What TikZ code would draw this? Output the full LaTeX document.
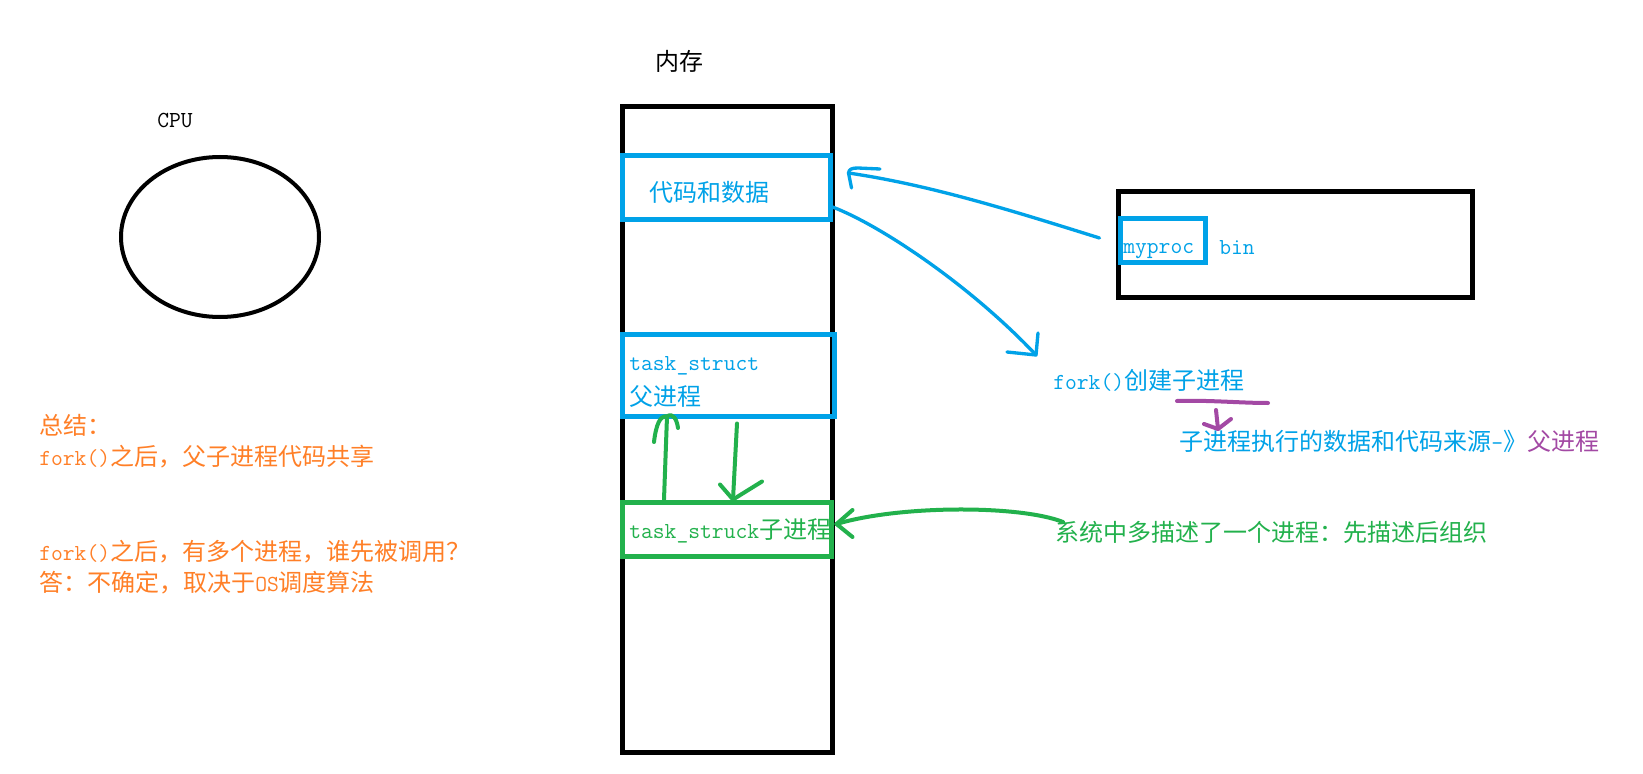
\documentclass[tikz,border=0pt]{standalone}
\usepackage{fontspec}
\setmainfont{Liberation Serif}
\newfontfamily\cjk{Noto Sans CJK SC}
\newcommand{\mylat}{\ttfamily\fontsize{17.2}{21}\selectfont}
\usetikzlibrary{shapes.geometric}
\definecolor{pblue}{RGB}{0,162,232}
\definecolor{pgreen}{RGB}{34,177,76}
\definecolor{ppurple}{RGB}{163,73,164}
\definecolor{porange}{RGB}{255,127,39}
\begin{document}
\begin{tikzpicture}[x=0.75pt,y=-0.75pt,
  txt/.style={inner sep=0pt, anchor=west, font=\cjk\fontsize{18}{21}\selectfont},
  ctxt/.style={txt, anchor=center},
  blackbox/.style={draw=black, line width=3.75pt, inner sep=0pt, rectangle},
  bluebox/.style={draw=pblue, line width=3.75pt, inner sep=0pt, rectangle},
  greenbox/.style={draw=pgreen, line width=3.75pt, inner sep=0pt, rectangle},
  bpen/.style={draw=pblue, line width=2.5pt, line cap=round, line join=round},
  gpen/.style={draw=pgreen, line width=3pt, line cap=round, line join=round},
  ppen/.style={draw=ppurple, line width=3pt, line cap=round, line join=round}]
\fill[white] (0,0) rectangle (1643,774);
\useasboundingbox (0,0) rectangle (1643,774);

% CPU
\node[ellipse, draw=black, line width=3pt, minimum width=148.5pt, minimum height=120pt, inner sep=0pt] (cpu) at (220,237) {};
\node[ctxt] (cpulabel) at (175,120) {\mylat CPU};

% memory
\node[blackbox, minimum width=157.5pt, minimum height=483.75pt] (mem) at (727,429.5) {};
\node[ctxt] (memlabel) at (679,61) {内存};

\node[bluebox, minimum width=156pt, minimum height=48pt] (code) at (726,187) {};
\node[ctxt, text=pblue] (codetext) at (709,192) {代码和数据};

\node[bluebox, minimum width=159pt, minimum height=61.5pt] (task) at (728,375) {};
\node[txt, text=pblue] (taskname) at (629,366) {\mylat task\_struct};
\node[txt, text=pblue] (taskparent) at (629,396) {父进程};

\node[greenbox, minimum width=156.75pt, minimum height=40.5pt] (child) at (726.5,529) {};
\node[txt, text=pgreen] (childtext) at (629,531) {{\mylat task\_struck}子进程};

% bin
\node[blackbox, minimum width=265.5pt, minimum height=79.5pt] (bin) at (1295,244) {};
\node[bluebox, minimum width=63.75pt, minimum height=33pt] (myproc) at (1162.5,240) {};
\node[txt, text=pblue] (myproctext) at (1123,251) {\mylat myproc};
\node[txt, text=pblue] (bintext) at (1219,248) {\mylat bin};

% right texts
\node[txt, text=pblue] (forktext) at (1053,380) {{\mylat fork()}创建子进程};
\node[txt, text=pblue] (srctext) at (1179,441) {子进程执行的数据和代码来源{\mylat -}》{\color{ppurple}父进程}};
\node[txt, text=pgreen] (sysText) at (1055,532) {系统中多描述了一个进程：先描述后组织};

% orange notes
\node[txt, text=porange] (sum) at (39,425) {总结：};
\node[txt, text=porange] (sum1) at (39,457) {{\mylat fork()}之后，父子进程代码共享};
\node[txt, text=porange] (sum2) at (39,552) {{\mylat fork()}之后，有多个进程，谁先被调用？};
\node[txt, text=porange] (sum3) at (39,583) {答：不确定，取决于{\mylat OS}调度算法};

% blue arrows
\coordinate (backtip) at ([shift={(16,-14)}]code.east);
\draw[bpen] ([shift={(-18,-2)}]myproc.west) .. controls (1010,210) and (930,185) .. (backtip);
\draw[bpen] ([shift={(3,15)}]backtip) -- (backtip) .. controls (849,169) and (852,168) .. (858,168) -- (880,169);

\coordinate (forktip) at ([shift={(-17,-25)}]forktext.west);
\draw[bpen] ([shift={(0,20)}]code.east) .. controls (880,225) and (970,285) .. (forktip);
\draw[bpen] ([shift={(-29,-3)}]forktip) -- (forktip) -- ([shift={(2,-22)}]forktip);

% green arrows
\coordinate (uptip) at ([shift={(-61,-2)}]task.south);
\draw[gpen] ([shift={(-62.5,0)}]child.north) -- (uptip);
\draw[gpen] (654,442) .. controls (656,425) and (660,415) .. (uptip) .. controls (673,412) and (677,420) .. (678,428);

\coordinate (downtip) at ([shift={(6.5,0)}]child.north);
\draw[gpen] ([shift={(9,5)}]task.south) -- (downtip);
\draw[gpen] ([shift={(-13,-15)}]downtip) -- (downtip) -- ([shift={(29,-18)}]downtip);

\coordinate (sidetip) at ([shift={(3,-5)}]child.east);
\draw[gpen] ([shift={(8,-10)}]sysText.west) .. controls (1020,505) and (900,505) .. (sidetip);
\draw[gpen] ([shift={(16,-14)}]sidetip) -- (sidetip) -- ([shift={(16,13)}]sidetip);

% purple marks
\draw[ppen] (1177,401) .. controls (1210,400) and (1240,403) .. (1268,403);
\coordinate (ptip) at (1218,429);
\draw[ppen] (1216,410) -- (ptip);
\draw[ppen] (1204,424) -- (ptip) -- (1231,419);
\end{tikzpicture}
\end{document}
